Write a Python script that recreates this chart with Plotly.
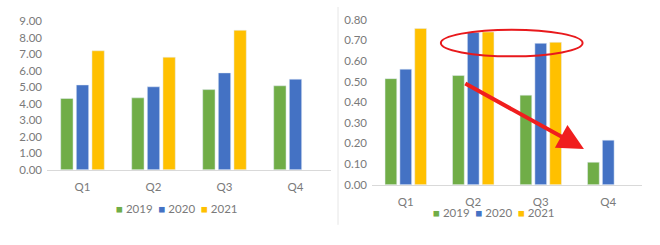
import plotly.graph_objects as go

quarters = ["Q1", "Q2", "Q3", "Q4"]
years = ["2019", "2020", "2021"]
colors = ["#70AD47", "#4472C4", "#FFC000"]

left_2019 = [4.32, 4.36, 4.86, 5.09]
left_2020 = [5.14, 5.03, 5.87, 5.49]
left_2021 = [7.21, 6.82, 8.45, None]

right_2019 = [0.514, 0.529, 0.434, 0.109]
right_2020 = [0.56, 0.738, 0.685, 0.216]
right_2021 = [0.757, 0.74, 0.69, None]

left_series = [left_2019, left_2020, left_2021]
right_series = [right_2019, right_2020, right_2021]

W, H = 660, 245
FONT = "Lato"
TXT = "#7A7A7A"

fig = go.Figure()
for name, col, vals in zip(years, colors, left_series):
    fig.add_trace(go.Bar(x=quarters, y=vals, name=name, marker_color=col,
                         xaxis="x", yaxis="y", showlegend=False))
for name, col, vals in zip(years, colors, right_series):
    fig.add_trace(go.Bar(x=quarters, y=vals, name=name, marker_color=col,
                         xaxis="x2", yaxis="y2", showlegend=False))

def px_x(p):
    return p / W

def px_y(p):
    return (H - p) / H

axis_font = dict(family=FONT, size=11.5, color=TXT)
xcommon = dict(showline=True, linecolor="#D9D9D9", linewidth=1, showgrid=False,
               zeroline=False, ticks="", tickfont=axis_font, fixedrange=True,
               ticklabelstandoff=6)
ycommon = dict(showline=False, showgrid=False, zeroline=False, ticks="",
               tickformat=".2f", tickfont=axis_font, fixedrange=True,
               ticklabelstandoff=4)

legend_text = "&nbsp;&nbsp;".join(
    f"<span style='color:{c}'>■</span> {n}" for n, c in zip(years, colors)
)

fig.update_layout(
    width=W, height=H,
    margin=dict(l=0, r=0, t=0, b=0),
    paper_bgcolor="white", plot_bgcolor="white",
    barmode="group", bargap=0.34, bargroupgap=0.21,
    font=dict(family=FONT, color=TXT),
    xaxis=dict(domain=[px_x(47), px_x(331)], anchor="y", **xcommon),
    yaxis=dict(domain=[px_y(172), px_y(15)], anchor="x", range=[0, 9], dtick=1, **ycommon),
    xaxis2=dict(domain=[px_x(372), px_x(642)], anchor="y2", **xcommon),
    yaxis2=dict(domain=[px_y(187.7), px_y(13.3)], anchor="x2", range=[0, 0.8], dtick=0.1, **ycommon),
    shapes=[
        dict(type="line", xref="paper", yref="paper", x0=px_x(338), x1=px_x(338),
             y0=px_y(0), y1=px_y(230), line=dict(color="#E6E6E6", width=1)),
        dict(type="circle", xref="x2", yref="y2", x0=0.52, x1=2.62, y0=0.622, y1=0.751,
             line=dict(color="#E8191C", width=2)),
    ],
    annotations=[
        dict(xref="paper", yref="paper", x=px_x(177), y=px_y(213), text=legend_text,
             showarrow=False, font=dict(family=FONT, size=11.5, color=TXT),
             xanchor="center", yanchor="middle"),
        dict(xref="paper", yref="paper", x=px_x(494), y=px_y(217), text=legend_text,
             showarrow=False, font=dict(family=FONT, size=11.5, color=TXT),
             xanchor="center", yanchor="middle"),
        dict(xref="x2", yref="y2", x=2.64, y=0.173, axref="x2", ayref="y2",
             ax=0.86, ay=0.494, text="", showarrow=True, arrowhead=2,
             arrowsize=1.3, arrowwidth=4, arrowcolor="#F01E1E"),
    ],
)

fig.write_html("out.html")
